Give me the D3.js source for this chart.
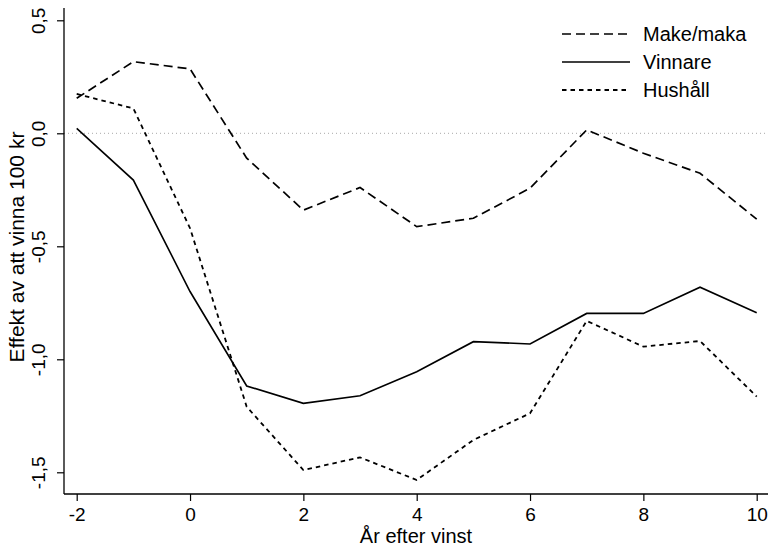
<!DOCTYPE html>
<html>
<head>
<meta charset="utf-8">
<script src="https://cdn.jsdelivr.net/npm/d3@7"></script>
<style>
  html, body { margin: 0; padding: 0; background: #fff; }
  svg { display: block; font-family: "Liberation Sans", Arial, Helvetica, sans-serif; }
</style>
</head>
<body>
<svg id="chart" width="768" height="550"></svg>
<script>
// Years relative to the win and the estimated effects per series
const years = [-2, -1, 0, 1, 2, 3, 4, 5, 6, 7, 8, 9, 10];
const makeMaka = [0.155, 0.317, 0.285, -0.11, -0.34, -0.24, -0.413, -0.376, -0.243, 0.015, -0.088, -0.177, -0.38];
const vinnare = [0.022, -0.207, -0.70, -1.118, -1.195, -1.161, -1.055, -0.922, -0.932, -0.797, -0.797, -0.681, -0.794];
const hushall = [0.174, 0.11, -0.42, -1.21, -1.49, -1.434, -1.534, -1.357, -1.239, -0.83, -0.944, -0.919, -1.165];

const seriesNames = ["Make/maka", "Vinnare", "Hushåll"];
const xTicks = [-2, 0, 2, 4, 6, 8, 10];
const yTicks = [-1.5, -1.0, -0.5, 0.0, 0.5];
const xTitle = "År efter vinst";
const yTitle = "Effekt av att vinna 100 kr";

const svg = d3.select("#chart");

// Plot frame
const frame = { left: 64, right: 768, top: 8, bottom: 494 };
const x = d3.scaleLinear().domain([-2, 10]).range([76.7, 756.7]);
const y = d3.scaleLinear().domain([-1.5, 0.5]).range([472.3, 20.3]);

const fmtY = v => d3.format(".1f")(v).replace("−", "-").replace(".", ",");
const fmtX = v => String(v);

// Zero reference line
svg.append("line")
  .attr("x1", frame.left).attr("x2", frame.right)
  .attr("y1", y(0)).attr("y2", y(0))
  .attr("stroke", "#a8a8a8").attr("stroke-width", 1)
  .attr("stroke-dasharray", "1,3");

// Y axis
const gy = svg.append("g")
  .attr("transform", `translate(${frame.left},0)`)
  .call(d3.axisLeft(y).tickValues(yTicks).tickFormat(fmtY).tickSize(7).tickPadding(0));
gy.select(".domain").remove();
gy.selectAll(".tick line").attr("stroke", "#000").attr("stroke-width", 1.2);
gy.selectAll(".tick text")
  .attr("transform", "rotate(-90)")
  .attr("x", 0).attr("y", -19).attr("dy", null)
  .attr("text-anchor", "middle")
  .attr("fill", "#000")
  .style("font-size", "19px");
svg.append("line")
  .attr("x1", frame.left).attr("x2", frame.left)
  .attr("y1", frame.top).attr("y2", frame.bottom)
  .attr("stroke", "#000").attr("stroke-width", 1.3);

// X axis
const gx = svg.append("g")
  .attr("transform", `translate(0,${frame.bottom})`)
  .call(d3.axisBottom(x).tickValues(xTicks).tickFormat(fmtX).tickSize(7).tickPadding(0));
gx.select(".domain").remove();
gx.selectAll(".tick line").attr("stroke", "#000").attr("stroke-width", 1.2);
gx.selectAll(".tick text")
  .attr("y", 27).attr("dy", null)
  .attr("fill", "#000")
  .style("font-size", "19px");
svg.append("line")
  .attr("x1", frame.left).attr("x2", frame.right)
  .attr("y1", frame.bottom).attr("y2", frame.bottom)
  .attr("stroke", "#000").attr("stroke-width", 1.3);

// Axis titles
svg.append("text")
  .attr("x", (frame.left + frame.right) / 2).attr("y", 543)
  .attr("text-anchor", "middle")
  .style("font-size", "20px")
  .text(xTitle);
svg.append("text")
  .attr("transform", `translate(23.5,${(frame.top + frame.bottom) / 2 - 4}) rotate(-90)`)
  .attr("text-anchor", "middle")
  .style("font-size", "21px")
  .text(yTitle);

// Series lines
const styles = [
  { values: makeMaka, dash: "9,5", width: 1.7 },
  { values: vinnare, dash: null, width: 1.6 },
  { values: hushall, dash: "4.5,4", width: 1.8 }
];
const line = d3.line().x(d => x(d[0])).y(d => y(d[1]));
styles.forEach(s => {
  svg.append("path")
    .datum(years.map((t, i) => [t, s.values[i]]))
    .attr("d", line)
    .attr("fill", "none")
    .attr("stroke", "#000")
    .attr("stroke-width", s.width)
    .attr("stroke-dasharray", s.dash);
});

// Legend
const legend = svg.append("g").attr("transform", "translate(562,34)");
seriesNames.forEach((name, i) => {
  const row = legend.append("g").attr("transform", `translate(0,${i * 28})`);
  row.append("line")
    .attr("x1", 0).attr("x2", 68).attr("y1", 0).attr("y2", 0)
    .attr("stroke", "#000")
    .attr("stroke-width", styles[i].width)
    .attr("stroke-dasharray", styles[i].dash);
  row.append("text")
    .attr("x", 81).attr("y", 7)
    .style("font-size", "20px")
    .text(name);
});
</script>
</body>
</html>
